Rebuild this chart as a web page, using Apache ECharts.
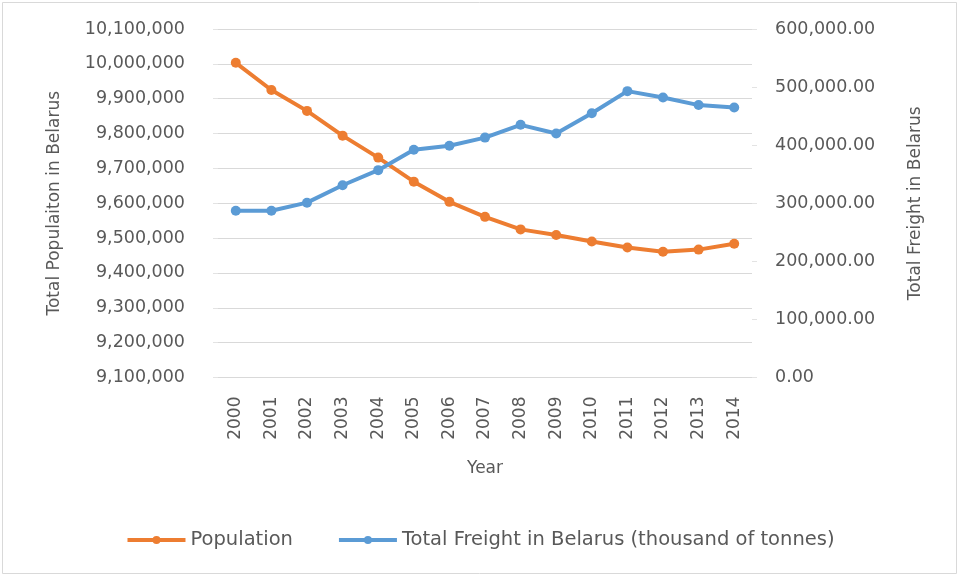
<!DOCTYPE html>
<html>
<head>
<meta charset="utf-8">
<script src="https://cdn.jsdelivr.net/npm/echarts@6/dist/echarts.min.js"></script>
<style>
html,body{margin:0;padding:0;background:#fff;}
#c{width:960px;height:577px;}
</style>
</head>
<body>
<div id="c"></div>
<script>
var years = ['2000','2001','2002','2003','2004','2005','2006','2007','2008','2009','2010','2011','2012','2013','2014'];
var population = [10003000, 9925000, 9865000, 9794000, 9731000, 9662000, 9604000, 9561000, 9525000, 9509000, 9490000, 9473000, 9461000, 9467000, 9484000];
var freight = [287000, 287000, 301000, 331000, 357000, 392000, 399000, 413000, 435000, 420000, 455000, 493000, 482000, 469000, 465000];
var popTicks = {min: 9100000, max: 10100000, interval: 100000};
var freightTicks = {min: 0, max: 600000, interval: 100000};

var FONT = 'DejaVu Sans';
var TXT = '#595959';
var chart = echarts.init(document.getElementById('c'), null, {renderer: 'canvas'});
function fmtInt(v){ return Math.round(v).toString().replace(/\B(?=(\d{3})+(?!\d))/g, ','); }
function fmt2(v){ return fmtInt(v) + '.00'; }
chart.setOption({
  animation: false,
  backgroundColor: '#fff',
  graphic: [{
    type: 'rect', shape: {x: 2.5, y: 2.5, width: 954, height: 571},
    style: {fill: 'none', stroke: '#d9d9d9', lineWidth: 1}, silent: true
  }],
  grid: {left: 218, right: 208, top: 29, bottom: 199.5, containLabel: false},
  legend: {
    top: 525, left: 'center', itemWidth: 58, itemHeight: 10, itemGap: 44,
    lineStyle: {width: 4},
    textStyle: {fontFamily: FONT, fontSize: 19.5, color: TXT},
    data: ['Population', 'Total Freight in Belarus (thousand of tonnes)']
  },
  xAxis: {
    type: 'category', data: years, boundaryGap: true,
    name: 'Year', nameLocation: 'middle', nameGap: 83,
    nameTextStyle: {fontFamily: FONT, fontSize: 17, color: TXT},
    axisLine: {show: true, lineStyle: {color: '#d9d9d9'}},
    axisTick: {show: false},
    axisLabel: {rotate: 90, margin: 19, fontFamily: FONT, fontSize: 17, color: TXT}
  },
  yAxis: [{
    type: 'value', position: 'left', min: popTicks.min, max: popTicks.max, interval: popTicks.interval,
    name: 'Total Populaiton in Belarus', nameLocation: 'middle', nameGap: 155, nameRotate: 90,
    nameTextStyle: {fontFamily: FONT, fontSize: 17, color: TXT},
    axisLine: {show: false},
    axisTick: {show: true, length: 5, lineStyle: {color: '#e3e3e3'}},
    splitLine: {show: true, lineStyle: {color: '#d9d9d9', width: 1}},
    axisLabel: {margin: 33, fontFamily: FONT, fontSize: 17.5, color: TXT, formatter: fmtInt}
  }, {
    type: 'value', position: 'right', min: freightTicks.min, max: freightTicks.max, interval: freightTicks.interval,
    name: 'Total Freight in Belarus', nameLocation: 'middle', nameGap: 155, nameRotate: 90,
    nameTextStyle: {fontFamily: FONT, fontSize: 17, color: TXT},
    axisLine: {show: false},
    axisTick: {show: true, length: 5, lineStyle: {color: '#e3e3e3'}},
    splitLine: {show: false},
    axisLabel: {margin: 23, fontFamily: FONT, fontSize: 17.5, color: TXT, formatter: fmt2}
  }],
  series: [{
    name: 'Population', type: 'line', yAxisIndex: 0, data: population,
    symbol: 'circle', symbolSize: 10,
    lineStyle: {color: '#ED7D31', width: 4},
    itemStyle: {color: '#ED7D31'}
  }, {
    name: 'Total Freight in Belarus (thousand of tonnes)', type: 'line', yAxisIndex: 1, data: freight,
    symbol: 'circle', symbolSize: 10,
    lineStyle: {color: '#5B9BD5', width: 4},
    itemStyle: {color: '#5B9BD5'}
  }]
});
</script>
</body>
</html>
